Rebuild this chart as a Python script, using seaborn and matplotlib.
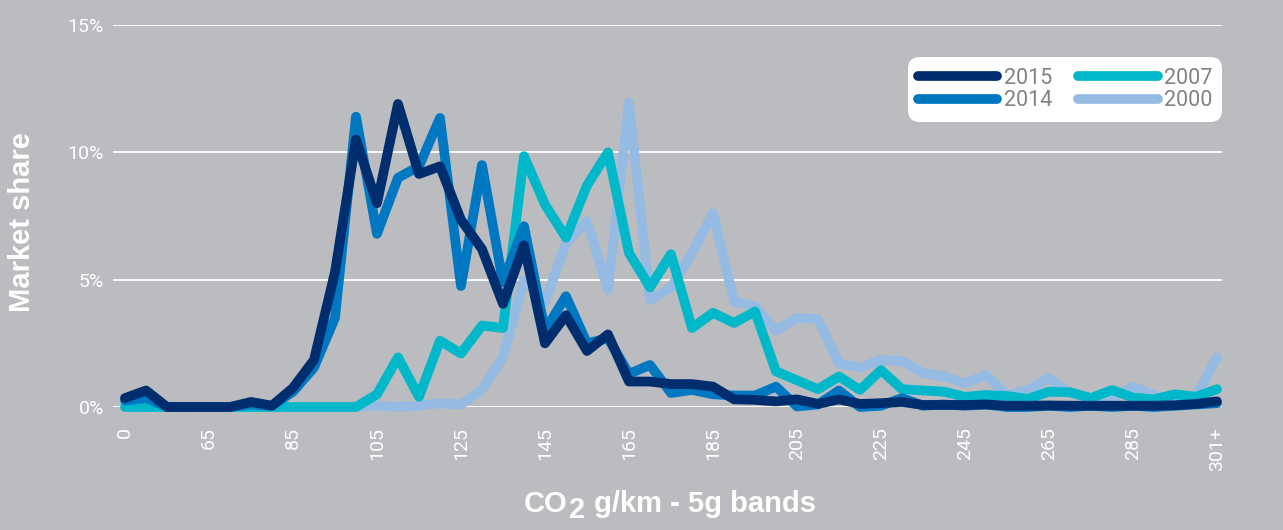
import numpy as np
import pandas as pd
import matplotlib
matplotlib.use('Agg')
import matplotlib.pyplot as plt
from matplotlib.lines import Line2D
from matplotlib.patches import FancyBboxPatch
import seaborn as sns

# market share (%) per 5g CO2 band, bands 0, 50..300, 301+
years = ['2015', '2014', '2007', '2000']
colors = ['#002d6e', '#0078c1', '#00b8c9', '#95bbe2']

share_2015 = [0.35, 0.65, 0.0, 0.0, 0.0, 0.0, 0.2, 0.05, 0.75, 1.85,
              5.3, 10.5, 8.0, 11.9, 9.15, 9.45, 7.35, 6.2, 4.05, 6.35,
              2.5, 3.6, 2.2, 2.85, 1.0, 1.0, 0.9, 0.9, 0.8, 0.3,
              0.28, 0.22, 0.3, 0.12, 0.3, 0.12, 0.15, 0.2, 0.08, 0.08,
              0.08, 0.1, 0.05, 0.05, 0.06, 0.05, 0.05, 0.05, 0.05, 0.05,
              0.07, 0.12, 0.22]
share_2014 = [0.25, 0.35, 0.0, 0.0, 0.0, 0.0, 0.1, 0.05, 0.6, 1.55,
              3.5, 11.4, 6.8, 9.0, 9.45, 11.35, 4.75, 9.5, 4.9, 7.1,
              3.0, 4.35, 2.5, 2.7, 1.3, 1.65, 0.55, 0.67, 0.5, 0.45,
              0.45, 0.8, 0.02, 0.1, 0.65, 0.0, 0.05, 0.35, 0.05, 0.1,
              0.05, 0.1, 0.0, 0.0, 0.05, 0.0, 0.05, 0.0, 0.05, 0.0,
              0.05, 0.1, 0.15]
share_2007 = [0.0, 0.0, 0.0, 0.0, 0.0, 0.0, 0.0, 0.0, 0.0, 0.0,
              0.0, 0.0, 0.5, 1.95, 0.4, 2.6, 2.1, 3.2, 3.1, 9.85,
              7.95, 6.65, 8.7, 10.0, 6.05, 4.7, 6.0, 3.1, 3.7, 3.3,
              3.75, 1.4, 1.05, 0.7, 1.2, 0.67, 1.45, 0.7, 0.65, 0.6,
              0.4, 0.47, 0.43, 0.32, 0.6, 0.58, 0.35, 0.67, 0.37, 0.3,
              0.5, 0.4, 0.7]
share_2000 = [np.nan] * 11 + [
              0.0, 0.05, 0.0, 0.05, 0.15, 0.1, 0.7, 1.95, 5.0,
              4.1, 6.45, 7.3, 4.6, 11.95, 4.2, 4.7, 6.05, 7.6, 4.15,
              3.95, 3.0, 3.5, 3.45, 1.7, 1.55, 1.85, 1.8, 1.33, 1.2,
              0.93, 1.25, 0.47, 0.67, 1.13, 0.55, 0.35, 0.35, 0.8, 0.47,
              0.27, 0.4, 1.95]

tick_pos = list(range(0, 53, 4))
tick_labels = ['0', '65', '85', '105', '125', '145', '165', '185',
               '205', '225', '245', '265', '285', '301+']

n = len(share_2015)
df = pd.DataFrame({
    'band': np.tile(np.arange(n), 4),
    'year': np.repeat(years, n),
    'share': np.concatenate([share_2015, share_2014, share_2007, share_2000]),
})

sns.set_theme(style='white')
plt.rcParams['font.family'] = ['Roboto', 'DejaVu Sans']

bg = '#bbbcbf'
fig = plt.figure(figsize=(12.83, 5.30), dpi=100, facecolor=bg)
ax = fig.add_axes([113 / 1283, 123 / 530, 1109 / 1283, 382 / 530])
ax.set_facecolor(bg)
ax.set_axisbelow(True)

# draw oldest first so 2015 ends up on top
sns.lineplot(data=df, x='band', y='share', hue='year',
             hue_order=['2000', '2007', '2014', '2015'],
             palette=dict(zip(years, colors)), linewidth=7,
             solid_capstyle='round', estimator=None, sort=False,
             legend=False, clip_on=False, ax=ax)

ax.set_xlim(-0.571, 52.24)
ax.set_ylim(0, 15)
ax.set_xticks(tick_pos)
ax.set_xticklabels(tick_labels)
ax.set_yticks([0, 5, 10, 15])
ax.set_yticklabels(['0%', '5%', '10%', '15%'])
ax.set_xlabel('')
ax.set_ylabel('')
ax.yaxis.grid(True, color='white', linewidth=1.3)
ax.xaxis.grid(False)
for s in ax.spines.values():
    s.set_visible(False)
ax.tick_params(axis='y', length=0, pad=6.5, labelsize=14, labelcolor='white')
ax.tick_params(axis='x', length=11, width=1.3, color='white', direction='out',
               pad=3.5, labelsize=14, labelcolor='white', labelrotation=90)

bold = dict(fontsize=21, weight='bold', color='white',
            family=['Liberation Sans', 'DejaVu Sans'])
fig.text(22 / 1283, 1 - 222 / 530, 'Market share', rotation=90,
         ha='center', va='center', **bold)

co = fig.text(524 / 1283, 18 / 530, 'CO', ha='left', va='baseline', **bold)
sub = ax.annotate('2', xy=(1, 0), xycoords=co, xytext=(1, -4.5),
                  textcoords='offset points', ha='left', va='bottom',
                  annotation_clip=False, **bold)
ax.annotate('g/km - 5g bands', xy=(1, 0), xycoords=sub, xytext=(6, 4.5),
            textcoords='offset points', ha='left', va='bottom',
            annotation_clip=False, **bold)

# white rounded legend box
box = FancyBboxPatch((9.08, 4.08), 3.14, 0.65,
                     boxstyle='round,pad=0,rounding_size=0.12',
                     transform=fig.dpi_scale_trans, facecolor='white',
                     edgecolor='none', zorder=4)
fig.add_artist(box)

handles = [Line2D([], [], color=c, lw=7, solid_capstyle='round') for c in colors]
fig.legend(handles, years, loc='center',
           bbox_to_anchor=(1065 / 1283, 1 - 89.5 / 530), ncol=2,
           frameon=False, fontsize=15.5, labelcolor='#808285',
           handlelength=3.7, handletextpad=0.3, columnspacing=1.2,
           labelspacing=0.05)

fig.savefig('out.png', dpi=100, facecolor=bg)
